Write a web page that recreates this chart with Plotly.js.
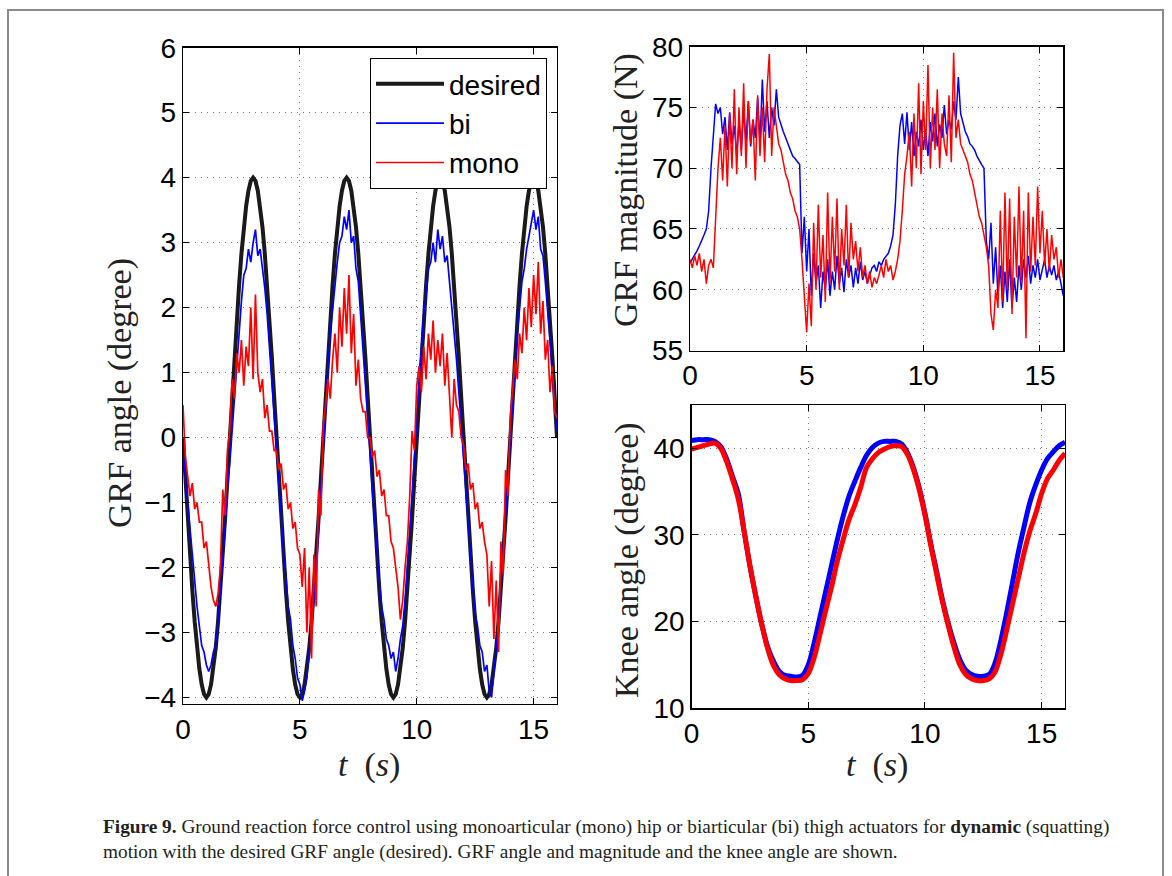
<!DOCTYPE html>
<html>
<head>
<meta charset="utf-8">
<script src="https://cdn.plot.ly/plotly-3.0.1.min.js"></script>
<style>html,body{margin:0;padding:0;background:#fff;}#chart{width:1172px;height:876px;}</style>
</head>
<body>
<div id="chart"></div>
<script>
// ---------- DATA ----------
// sample times (s) for the angle and force signals, 0.1 s apart
const timeFine = Array.from({length: 161}, (_, i) => +(i * 0.1).toFixed(1));
// sample times (s) for knee angle, 0.25 s apart
const timeKnee = Array.from({length: 65}, (_, i) => i * 0.25);

const seriesNames = ["desired", "bi", "mono"];

// GRF angle (degree)
const desiredAngle = [
 0,-0.63,-1.24,-1.82,-2.35,-2.83,-3.24,-3.56,-3.80,-3.95,-4.00,-3.95,-3.80,-3.56,-3.24,-2.83,-2.35,-1.82,-1.24,-0.63,
 0,0.63,1.24,1.82,2.35,2.83,3.24,3.56,3.80,3.95,4.00,3.95,3.80,3.56,3.24,2.83,2.35,1.82,1.24,0.63,
 0,-0.63,-1.24,-1.82,-2.35,-2.83,-3.24,-3.56,-3.80,-3.95,-4.00,-3.95,-3.80,-3.56,-3.24,-2.83,-2.35,-1.82,-1.24,-0.63,
 0,0.63,1.24,1.82,2.35,2.83,3.24,3.56,3.80,3.95,4.00,3.95,3.80,3.56,3.24,2.83,2.35,1.82,1.24,0.63,
 0,-0.63,-1.24,-1.82,-2.35,-2.83,-3.24,-3.56,-3.80,-3.95,-4.00,-3.95,-3.80,-3.56,-3.24,-2.83,-2.35,-1.82,-1.24,-0.63,
 0,0.63,1.24,1.82,2.35,2.83,3.24,3.56,3.80,3.95,4.00,3.95,3.80,3.56,3.24,2.83,2.35,1.82,1.24,0.63,
 0,-0.63,-1.24,-1.82,-2.35,-2.83,-3.24,-3.56,-3.80,-3.95,-4.00,-3.95,-3.80,-3.56,-3.24,-2.83,-2.35,-1.82,-1.24,-0.63,
 0,0.63,1.24,1.82,2.35,2.83,3.24,3.56,3.80,3.95,4.00,3.95,3.80,3.56,3.24,2.83,2.35,1.82,1.24,0.63,
 0];
const biAngle = [
 -0.2,-0.6,-1.1,-1.5,-1.9,-2.3,-2.6,-2.9,-3.2,-3.3,-3.5,-3.6,-3.5,-3.3,-3.2,-2.8,-2.4,-1.9,-1.4,-0.8,
 -0.4,0.1,0.7,1.2,1.6,2.1,2.5,2.6,2.9,2.7,3.0,3.2,2.8,2.9,2.6,2.3,1.9,1.4,0.9,0.4,
 -0.1,-0.7,-1.2,-1.8,-2.1,-2.6,-2.8,-3.2,-3.4,-3.7,-3.8,-4.05,-3.9,-3.7,-3.3,-3.0,-2.5,-2.0,-1.3,-0.8,
 -0.2,0.5,1.1,1.6,2.0,2.4,2.7,3.0,3.1,3.4,3.2,3.5,3.0,3.1,2.6,2.4,1.9,1.4,0.9,0.3,
 -0.2,-0.8,-1.3,-1.8,-2.2,-2.6,-2.8,-3.1,-3.2,-3.4,-3.3,-3.6,-3.4,-3.1,-2.9,-2.5,-2.0,-1.5,-0.9,-0.3,
 0.3,0.9,1.4,1.9,2.2,2.6,2.7,3.0,2.7,3.2,2.9,3.1,2.7,2.8,2.4,2.1,1.7,1.2,0.7,0.2,
 -0.3,-0.9,-1.4,-1.9,-2.3,-2.7,-2.9,-3.2,-3.3,-3.6,-3.5,-3.9,-4.0,-3.6,-3.2,-2.9,-2.3,-1.8,-1.2,-0.6,
 0.0,0.6,1.1,1.6,2.0,2.4,2.6,2.9,3.1,3.3,3.5,3.2,3.4,2.9,2.8,2.4,2.0,1.5,1.0,0.5,
 0.1];
const monoAngle = [
 0.5,-0.3,-0.6,-0.9,-0.7,-1.1,-1.0,-1.3,-1.3,-1.7,
 -1.6,-2.0,-2.3,-2.5,-2.6,-2.4,-2.0,-0.8,-1.2,-0.2,
 0.1,0.9,0.6,1.3,1.0,1.5,0.8,1.4,1.1,2.0,
 0.9,2.2,1.0,0.7,0.9,0.3,0.5,0.1,0.1,-0.2,
 -0.2,-0.5,-0.4,-0.8,-0.7,-1.1,-1.0,-1.4,-1.3,-1.7,
 -1.8,-2.3,-1.7,-3.0,-2.0,-3.4,-1.8,-2.6,-0.8,-1.2,
 0.2,0.5,0.9,0.6,1.2,1.6,1.0,2.0,1.4,2.3,
 1.6,2.5,1.3,1.9,0.8,1.2,0.6,0.4,0.4,0.0,
 0.0,-0.3,-0.2,-0.6,-0.5,-0.9,-0.8,-1.2,-1.2,-1.6,
 -1.7,-2.0,-2.3,-2.8,-2.5,-2.0,-1.6,-0.9,0.1,-0.2,
 0.8,1.1,0.7,1.4,0.9,1.6,1.2,1.8,1.0,1.5,
 1.1,1.6,0.8,1.3,0.6,0.0,0.9,0.5,0.4,0.0,
 -0.1,-0.5,-0.4,-0.8,-0.7,-1.1,-1.0,-1.4,-1.3,-1.6,
 -1.8,-2.6,-1.9,-3.1,-2.2,-3.3,-1.6,-2.1,-0.5,-0.9,
 0.3,0.7,1.2,0.9,1.6,1.3,2.0,1.5,2.3,1.7,
 2.5,1.9,2.7,1.6,2.1,1.2,1.5,0.7,1.1,0.4,
 0.3];

// GRF magnitude (N)
const biMagnitude = [
 62.2,62.5,62.8,63.2,63.6,64.0,64.5,65.0,66.5,70.0,
 72.5,75.3,74.5,75.0,72.8,74.2,71.5,74.6,72.0,73.5,
 71.0,73.8,71.5,74.8,72.2,75.5,71.8,74.0,72.5,75.8,
 72.0,77.3,73.0,75.5,72.5,75.0,73.5,76.5,74.2,73.5,
 73.0,72.5,72.0,71.5,71.0,70.8,70.5,70.3,63.0,66.0,
 61.5,65.0,59.5,63.0,60.5,62.0,58.5,61.5,60.0,62.5,
 59.5,61.5,60.0,62.8,60.5,61.8,59.8,62.5,61.0,62.0,
 60.2,61.8,60.5,62.3,60.8,61.5,60.5,61.2,61.8,62.0,
 61.5,62.3,62.0,62.5,62.8,63.0,63.6,64.5,67.0,71.0,
 73.5,74.5,72.0,74.6,71.5,73.8,71.0,73.0,71.8,74.0,
 71.5,73.2,71.0,73.8,72.2,74.5,71.8,73.6,72.5,75.2,
 72.8,74.0,73.2,75.5,74.0,77.5,74.5,73.8,73.0,72.6,
 72.0,71.8,71.5,71.0,70.6,70.3,70.0,64.0,62.5,65.5,
 60.5,63.5,59.5,62.0,58.5,61.5,59.0,62.5,58.5,61.0,
 59.0,62.0,60.0,62.5,61.0,62.8,60.5,62.0,61.0,62.5,
 60.8,61.8,62.5,61.0,62.0,61.2,62.0,60.8,61.5,60.5,
 59.5];
const monoMagnitude = [
 62.5,61.8,62.8,62.0,63.0,61.5,62.5,60.5,62.0,62.5,
 61.8,66.0,70.0,72.5,69.0,73.5,68.5,74.5,70.0,76.5,
 69.5,75.0,71.0,77.0,70.0,75.5,72.0,74.0,69.0,76.0,
 71.0,75.0,70.5,76.5,79.4,71.0,75.0,73.5,72.0,71.5,
 70.5,69.5,69.0,68.0,67.5,66.5,66.0,65.0,62.5,59.0,
 56.5,60.5,57.0,65.5,60.0,67.0,61.0,64.5,59.0,68.0,
 60.5,66.0,61.5,67.5,60.0,65.0,62.0,67.0,61.0,65.5,
 62.5,64.0,61.5,63.5,61.0,62.0,60.5,61.5,60.2,61.0,
 60.5,61.2,62.0,61.0,62.5,61.5,62.0,60.8,61.5,62.5,
 64.0,66.5,69.5,71.0,73.0,68.5,74.5,70.0,77.0,69.5,
 75.5,71.5,78.5,70.0,75.0,71.5,76.5,70.0,74.5,72.0,
 71.0,76.0,70.5,79.5,72.5,74.0,72.0,71.5,71.0,70.5,
 69.5,69.0,68.0,67.0,66.0,65.5,64.5,63.5,62.0,58.0,
 56.7,60.0,58.5,66.5,59.0,68.0,60.0,67.5,58.0,66.0,
 61.0,68.5,60.5,66.5,56.0,68.0,61.5,66.0,62.0,68.5,
 63.0,66.5,62.0,65.0,61.5,64.5,62.5,63.5,61.0,62.5,
 61.0];

// Knee angle (degree), every 0.25 s
const biKnee = [
 40.9,41.0,41.0,41.0,40.8,40.2,38.8,36.8,34.8,30.5,26.5,23.0,19.8,17.2,15.5,14.3,
 13.8,13.7,13.6,13.8,15.0,17.5,20.5,23.5,26.5,29.5,32.2,34.5,36.2,37.8,39.2,40.1,
 40.6,40.8,40.8,40.8,40.5,39.5,37.8,35.5,32.5,29.0,25.8,22.5,19.8,17.5,15.6,14.4,
 13.9,13.7,13.7,13.9,15.2,17.8,21.0,24.5,28.0,31.0,33.8,35.8,37.5,38.8,39.6,40.3,
 40.7];
const monoKnee = [
 39.9,40.1,40.3,40.5,40.6,40.0,38.5,36.5,34.2,30.5,26.5,23.0,19.8,17.0,15.0,13.9,
 13.4,13.2,13.2,13.3,14.0,15.8,18.5,21.3,24.0,27.0,29.5,31.8,33.5,35.5,37.8,38.8,
 39.5,39.9,40.2,40.3,40.2,39.3,37.6,35.3,32.3,28.8,25.5,22.3,19.5,17.0,15.0,13.9,
 13.4,13.2,13.2,13.4,14.2,16.2,19.0,22.0,25.0,28.0,30.5,32.5,34.8,36.5,37.5,38.6,
 39.4];

const xTicks = [0, 5, 10, 15];
const angleTicks = [-4, -3, -2, -1, 0, 1, 2, 3, 4, 5, 6];
const magnitudeTicks = [55, 60, 65, 70, 75, 80];
const kneeTicks = [10, 20, 30, 40];

// ---------- LAYOUT ----------
const W = 1172, H = 876;
const fx = p => p / W;
const fy = p => 1 - p / H;

const BLACK = '#1a1a1a', BLUE = '#0000ff', RED = '#ff0000';
const tickFont = {family: 'Liberation Sans, Arial, sans-serif', size: 28, color: '#000'};
const serif = 'Liberation Serif, Times New Roman, serif';

function axisBase(extra) {
  return Object.assign({
    ticks: 'inside', ticklen: 6, tickwidth: 1, tickcolor: '#000',
    showline: true, linecolor: '#000', linewidth: 1.3, mirror: 'ticks',
    showgrid: true, gridcolor: '#7a7a7a', griddash: '1px,5px', gridwidth: 1,
    zeroline: false, tickfont: tickFont, fixedrange: true
  }, extra);
}

const traces = [
  {x: timeFine, y: desiredAngle, name: seriesNames[0], type: 'scatter', mode: 'lines',
   line: {color: BLACK, width: 4}, xaxis: 'x', yaxis: 'y'},
  {x: timeFine, y: biAngle, name: seriesNames[1], type: 'scatter', mode: 'lines',
   line: {color: BLUE, width: 1.7}, xaxis: 'x', yaxis: 'y'},
  {x: timeFine, y: monoAngle, name: seriesNames[2], type: 'scatter', mode: 'lines',
   line: {color: RED, width: 1.7}, xaxis: 'x', yaxis: 'y'},
  {x: timeFine, y: biMagnitude, name: seriesNames[1], showlegend: false, type: 'scatter', mode: 'lines',
   line: {color: BLUE, width: 1.5}, xaxis: 'x2', yaxis: 'y2'},
  {x: timeFine, y: monoMagnitude, name: seriesNames[2], showlegend: false, type: 'scatter', mode: 'lines',
   line: {color: RED, width: 1.5}, xaxis: 'x2', yaxis: 'y2'},
  {x: timeKnee, y: biKnee, name: seriesNames[1], showlegend: false, type: 'scatter', mode: 'lines',
   line: {color: BLUE, width: 5, shape: 'spline'}, xaxis: 'x3', yaxis: 'y3'},
  {x: timeKnee, y: monoKnee, name: seriesNames[2], showlegend: false, type: 'scatter', mode: 'lines',
   line: {color: RED, width: 5, shape: 'spline'}, xaxis: 'x3', yaxis: 'y3'}
];

const titleFont = {family: serif, size: 34, color: '#222'};
function vtitle(text, xp, yp) {
  return {text: text, xref: 'paper', yref: 'paper', x: fx(xp), y: fy(yp),
          xanchor: 'center', yanchor: 'middle', textangle: -90, showarrow: false, font: titleFont};
}
function htitle(text, xp, yp) {
  return {text: text, xref: 'paper', yref: 'paper', x: fx(xp), y: fy(yp),
          xanchor: 'center', yanchor: 'middle', showarrow: false, font: titleFont};
}

const layout = {
  width: W, height: H,
  margin: {l: 0, r: 0, t: 0, b: 0},
  paper_bgcolor: '#fff', plot_bgcolor: '#fff',
  showlegend: true,
  xaxis: axisBase({domain: [fx(183), fx(557)], range: [0, 16], tickvals: xTicks, anchor: 'y', ticklabelstandoff: 0}),
  yaxis: axisBase({domain: [fy(704), fy(47.7)], range: [-4.1, 6], tickvals: angleTicks, anchor: 'x', ticklabelstandoff: 0}),
  xaxis2: axisBase({domain: [fx(690), fx(1063.3)], range: [0, 16], tickvals: xTicks, anchor: 'y2', ticklabelstandoff: 0}),
  yaxis2: axisBase({domain: [fy(350.5), fy(46.7)], range: [55, 80], tickvals: magnitudeTicks, anchor: 'x2', ticklabelstandoff: 0}),
  xaxis3: axisBase({domain: [fx(691.5), fx(1065)], range: [0, 16], tickvals: xTicks, anchor: 'y3', ticklabelstandoff: 0}),
  yaxis3: axisBase({domain: [fy(708.3), fy(405)], range: [10, 45], tickvals: kneeTicks, anchor: 'x3', ticklabelstandoff: 0}),
  legend: {
    x: fx(547), xanchor: 'right', y: fy(58), yanchor: 'top',
    bgcolor: '#fff', bordercolor: '#000', borderwidth: 1,
    font: {family: 'Liberation Sans, Arial, sans-serif', size: 28, color: '#000'},
    itemwidth: 68, tracegroupgap: 0
  },
  annotations: [
    vtitle('GRF angle (degree)', 120, 393),
    vtitle('GRF magnitude (N)', 626, 190),
    vtitle('Knee angle (degree)', 627, 560),
    htitle('<i>t</i>&nbsp;&nbsp;(<i>s</i>)', 369, 765),
    htitle('<i>t</i>&nbsp;&nbsp;(<i>s</i>)', 877, 765),
    {text: '<b>Figure 9.</b> Ground reaction force control using monoarticular (mono) hip or biarticular (bi) thigh actuators for <b>dynamic</b> (squatting)<br>motion with the desired GRF angle (desired). GRF angle and magnitude and the knee angle are shown.',
     xref: 'paper', yref: 'paper', x: fx(101), y: fy(814), xanchor: 'left', yanchor: 'top', align: 'left',
     showarrow: false, font: {family: serif, size: 19.3, color: '#231f20'}}
  ],
  shapes: [
    {type: 'rect', xref: 'paper', yref: 'paper', x0: fx(8), x1: fx(1163), y0: fy(900), y1: fy(10),
     line: {color: '#8a8a8a', width: 2}, fillcolor: 'rgba(0,0,0,0)', layer: 'below'}
  ]
};

Plotly.newPlot('chart', traces, layout, {staticPlot: true, displayModeBar: false});
</script>
</body>
</html>
